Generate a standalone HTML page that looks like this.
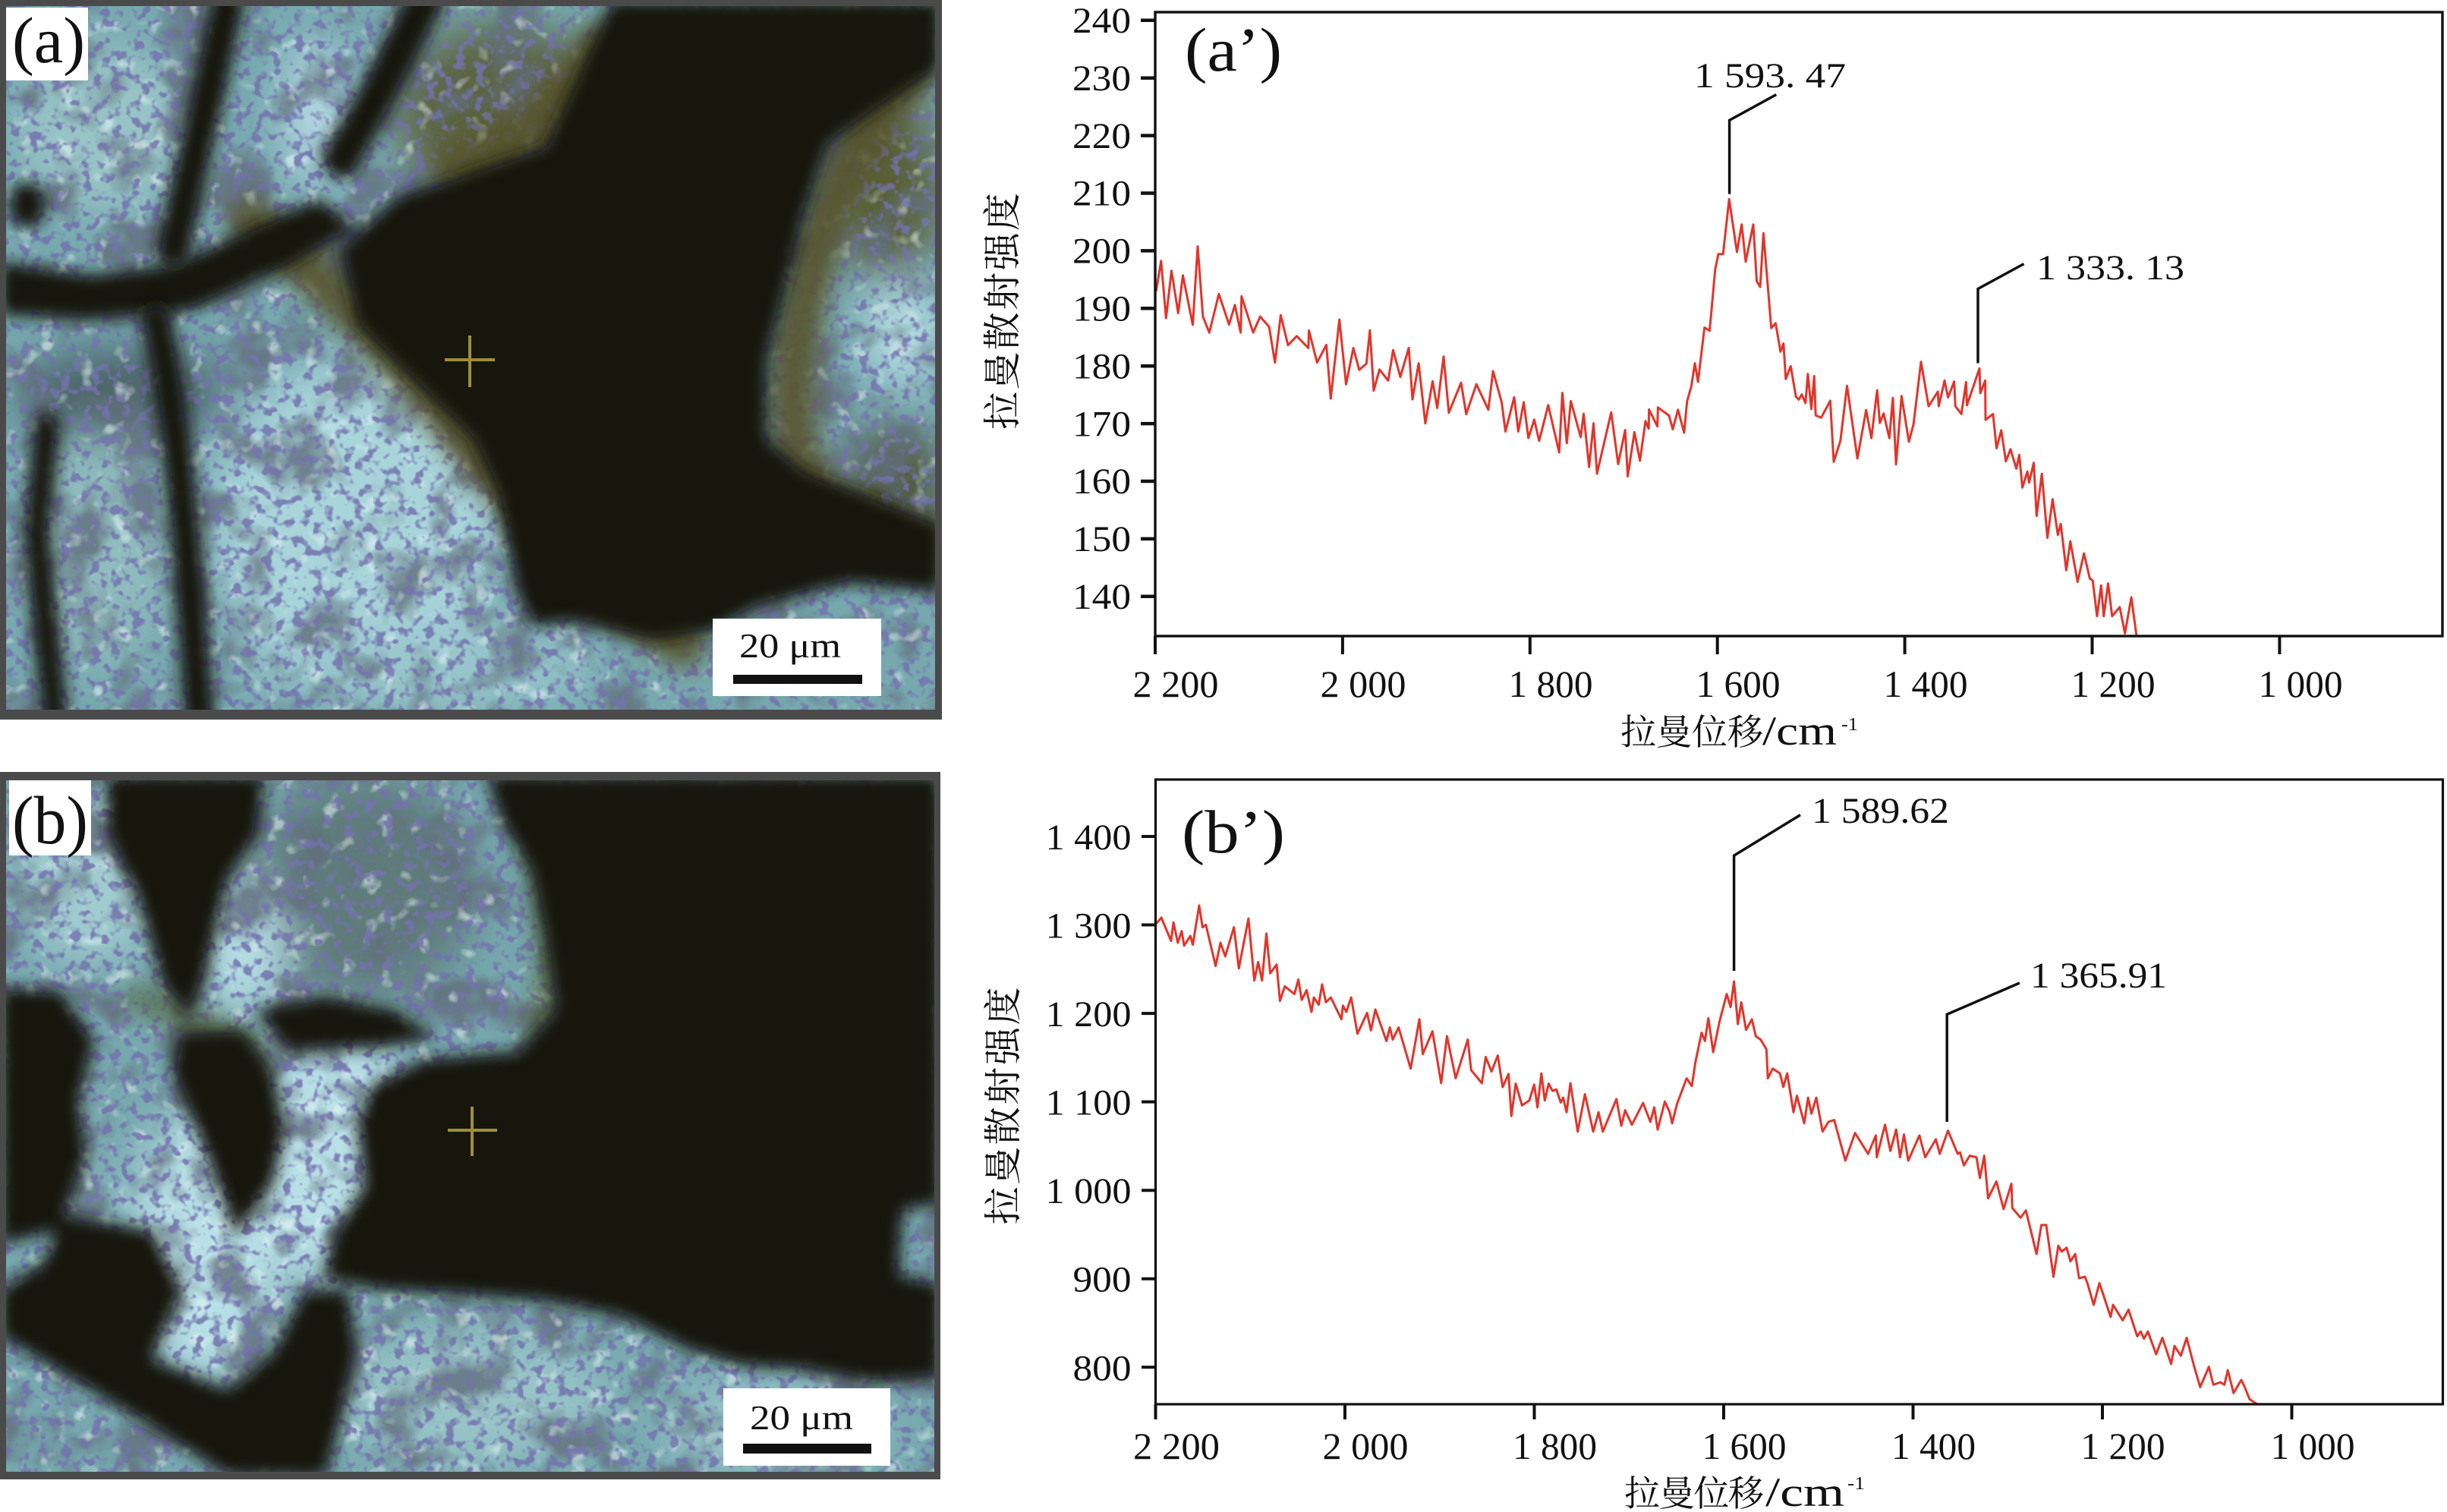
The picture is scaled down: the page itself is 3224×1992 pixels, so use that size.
<!DOCTYPE html>
<html>
<head>
<meta charset="utf-8">
<style>
html,body{margin:0;padding:0;background:#fff;}
body{width:3224px;height:1992px;overflow:hidden;}
svg{display:block;}
.num{font-family:"Liberation Serif","Noto Serif CJK SC",serif;fill:#111;}
.cjk{font-family:"Liberation Serif","Noto Serif CJK SC",serif;fill:#111;}
</style>
</head>
<body>
<svg width="3224" height="1992" viewBox="0 0 3224 1992" xmlns="http://www.w3.org/2000/svg">
<defs>
  <clipPath id="clipA"><rect x="8" y="8" width="1224" height="927"/></clipPath>
  <clipPath id="clipB"><rect x="8" y="1028" width="1223" height="911"/></clipPath>
  <filter id="b10" x="-10%" y="-10%" width="120%" height="120%"><feGaussianBlur stdDeviation="10"/></filter>
  <filter id="b15" x="-20%" y="-20%" width="140%" height="140%"><feGaussianBlur stdDeviation="15"/></filter>
  <filter id="b30" x="-30%" y="-30%" width="160%" height="160%"><feGaussianBlur stdDeviation="30"/></filter>
  <filter id="mottle" x="0" y="0" width="100%" height="100%">
    <feTurbulence type="fractalNoise" baseFrequency="0.014" numOctaves="3" seed="4"/>
    <feColorMatrix type="matrix" values="0 0 0 0 0.12  0 0 0 0 0.16  0 0 0 0 0.2  4 0 0 0 -1.9"/>
  </filter>
  <filter id="speck" x="0" y="0" width="100%" height="100%">
    <feTurbulence type="fractalNoise" baseFrequency="0.075" numOctaves="2" seed="7"/>
    <feColorMatrix type="matrix" values="0 0 0 0 0.17  0 0 0 0 0.17  0 0 0 0 0.42  6 0 0 0 -3.1"/>
  </filter>
  <filter id="speck2" x="0" y="0" width="100%" height="100%">
    <feTurbulence type="fractalNoise" baseFrequency="0.04" numOctaves="2" seed="19"/>
    <feColorMatrix type="matrix" values="0 0 0 0 0.82  0 0 0 0 0.94  0 0 0 0 0.95  0 5 0 0 -3.0"/>
  </filter>
</defs>

<!-- ================= PHOTO A ================= -->
<rect x="0" y="0" width="1241" height="948" fill="#4b4a4a"/>
<g clip-path="url(#clipA)">
  <rect x="8" y="8" width="1224" height="927" fill="#76a8ae"/>
  <g filter="url(#b30)">
    <ellipse cx="660" cy="150" rx="140" ry="120" fill="#5c6440"/>
    <ellipse cx="1170" cy="250" rx="70" ry="120" fill="#5a5e34"/>
    <ellipse cx="1180" cy="640" rx="60" ry="80" fill="#4e5230"/>
    <ellipse cx="470" cy="690" rx="190" ry="220" fill="#a8d4da"/>
    <ellipse cx="560" cy="880" rx="230" ry="55" fill="#98c6cc"/>
    <ellipse cx="140" cy="170" rx="120" ry="110" fill="#98c4c6"/>
    <ellipse cx="415" cy="150" rx="40" ry="100" fill="#b8dce6"/>
    <ellipse cx="1190" cy="440" rx="50" ry="70" fill="#b8e0e6"/>
    <ellipse cx="130" cy="720" rx="90" ry="160" fill="#90bcbe"/>
    <ellipse cx="160" cy="520" rx="140" ry="60" fill="#4a6466"/>
  </g>
  <rect x="8" y="8" width="1224" height="927" filter="url(#mottle)" opacity="0.8"/>
  <rect x="8" y="8" width="1224" height="927" filter="url(#speck2)" opacity="0.55"/>
  <rect x="8" y="8" width="1224" height="927" filter="url(#speck)" opacity="0.85"/>
  <g filter="url(#b15)" fill="none" stroke="#57532a" stroke-width="60" stroke-linecap="round" opacity="0.9">
    <path d="M 330 290 C 430 370 520 460 600 560 S 760 760 900 850"/>
    <path d="M 1200 100 C 1110 200 1050 360 1045 520 S 1130 680 1232 720"/>
    <path d="M 600 220 C 680 200 740 140 790 60"/>
  </g>
  <g filter="url(#b10)" fill="#17140f">
    <path d="M 805 0 L 1240 0 L 1240 90 L 1150 150 L 1092 192 L 1060 288 L 1036 385 L 1012 474 L 1012 577 L 1060 620 L 1116 641 L 1240 690 L 1240 780 L 1116 769 L 1000 800 L 940 833 L 860 845 L 760 820 L 700 825 L 680 780 L 654 650 L 622 580 L 540 500 L 470 430 L 446 330 L 520 260 L 620 225 L 717 192 L 760 100 Z"/>
    <path d="M 0 345 L 120 362 L 230 348 L 330 300 L 420 262 L 470 300 L 380 352 L 250 410 L 120 422 L 0 415 Z"/>
    <ellipse cx="36" cy="270" rx="25" ry="30"/>
  </g>
  <g filter="url(#b10)" fill="none" stroke="#17140f" stroke-linecap="round">
    <path d="M 300 0 L 268 150 L 228 330" stroke-width="45"/>
    <path d="M 560 0 L 500 120 L 450 210" stroke-width="50"/>
    <path d="M 205 420 C 228 520 242 640 262 945" stroke-width="40"/>
    <path d="M 62 560 L 48 700 L 72 945" stroke-width="35"/>
  </g>
  <g stroke="#a08d3a" stroke-width="4">
    <line x1="586" y1="474" x2="652" y2="474"/>
    <line x1="619" y1="442" x2="619" y2="510"/>
  </g>
  <rect x="8" y="10" width="108" height="96" fill="#fff"/>
  <text x="16" y="82" class="num" font-size="86" textLength="96" lengthAdjust="spacingAndGlyphs">(a)</text>
  <rect x="939" y="815" width="222" height="102" fill="#fff"/>
  <text x="974" y="866" class="num" font-size="46" textLength="134" lengthAdjust="spacingAndGlyphs">20 μm</text>
  <rect x="966" y="889" width="170" height="12" fill="#111"/>
</g>

<!-- ================= PHOTO B ================= -->
<rect x="0" y="1017" width="1239" height="932" fill="#4b4a4a"/>
<g clip-path="url(#clipB)">
  <rect x="8" y="1028" width="1223" height="911" fill="#76a8ae"/>
  <g filter="url(#b30)">
    <ellipse cx="480" cy="1170" rx="150" ry="150" fill="#5f7c7a"/>
    <ellipse cx="320" cy="1250" rx="55" ry="90" fill="#b8e0e6"/>
    <ellipse cx="440" cy="1520" rx="110" ry="170" fill="#b8e0e6"/>
    <ellipse cx="270" cy="1640" rx="100" ry="180" fill="#b8e0e6"/>
    <ellipse cx="120" cy="1150" rx="100" ry="120" fill="#a0ccd0"/>
    <ellipse cx="620" cy="1840" rx="180" ry="90" fill="#98c4c8"/>
    <ellipse cx="1020" cy="1880" rx="150" ry="60" fill="#98c4c8"/>
    <ellipse cx="60" cy="1520" rx="60" ry="100" fill="#88b2b6"/>
  </g>
  <rect x="8" y="1028" width="1223" height="911" filter="url(#mottle)" opacity="0.8"/>
  <rect x="8" y="1028" width="1223" height="911" filter="url(#speck2)" opacity="0.55"/>
  <rect x="8" y="1028" width="1223" height="911" filter="url(#speck)" opacity="0.85"/>
  <g filter="url(#b15)" fill="none" stroke="#4e5a2c" stroke-width="40" opacity="0.6">
    <path d="M 170 1310 C 230 1330 300 1370 350 1390"/>
    <path d="M 700 1100 C 730 1200 740 1300 700 1380"/>
  </g>
  <g filter="url(#b10)" fill="#17140f">
    <path d="M 640 1020 L 1240 1020 L 1240 1585 L 1190 1595 L 1185 1680 L 1240 1690 L 1240 1815 L 1150 1822 L 1060 1805 L 980 1800 L 900 1775 L 820 1735 L 720 1715 L 600 1705 L 500 1700 L 425 1685 L 440 1625 L 480 1560 L 470 1480 L 490 1430 L 560 1395 L 680 1385 L 730 1330 L 720 1250 L 700 1150 L 660 1080 Z"/>
    <path d="M 140 1020 L 350 1020 L 340 1100 L 300 1160 L 270 1290 L 250 1340 L 215 1300 L 180 1180 L 140 1100 Z"/>
    <path d="M 335 1330 L 430 1312 L 520 1330 L 575 1365 L 500 1380 L 380 1385 Z"/>
    <path d="M 235 1360 L 320 1355 L 360 1410 L 375 1490 L 360 1560 L 310 1630 L 290 1570 L 255 1480 L 225 1410 Z"/>
    <path d="M 0 1300 L 80 1305 L 125 1370 L 105 1450 L 115 1520 L 80 1620 L 0 1640 Z"/>
    <path d="M 80 1600 L 200 1620 L 240 1700 L 200 1790 L 300 1830 L 360 1780 L 400 1700 L 460 1700 L 470 1780 L 450 1870 L 430 1945 L 300 1945 L 200 1880 L 100 1820 L 0 1760 L 0 1700 L 60 1660 Z"/>
  </g>
  <g stroke="#a08d3a" stroke-width="4">
    <line x1="590" y1="1489" x2="655" y2="1489"/>
    <line x1="622" y1="1458" x2="622" y2="1523"/>
  </g>
  <rect x="12" y="1027" width="108" height="100" fill="#fff"/>
  <text x="16" y="1111" class="num" font-size="90" textLength="100" lengthAdjust="spacingAndGlyphs">(b)</text>
  <rect x="953" y="1829" width="220" height="102" fill="#fff"/>
  <text x="988" y="1883" class="num" font-size="46" textLength="136" lengthAdjust="spacingAndGlyphs">20 μm</text>
  <rect x="979" y="1902" width="169" height="13" fill="#111"/>
</g>

<!-- ================= CHART A' ================= -->
<g>
  <polyline fill="none" stroke="#e3342a" stroke-width="3" stroke-linejoin="round" points="1523.2,383.9 1529.8,343.7 1536.3,419.1 1543.5,356.7 1552.3,412.6 1558.5,362.8 1571.5,427.9 1578,324.5 1584.9,417.1 1593.3,438.2 1605.9,387.3 1619.3,427.5 1627,401.8 1634.6,438.2 1635.8,390.4 1651.1,438.2 1660.3,417.1 1672.1,430.5 1679.8,477.6 1687.4,415.2 1697,454.7 1708.5,442.8 1723.8,458.5 1724.6,435.5 1735.3,477.6 1747.5,454.3 1753.3,525.1 1764.7,421 1773.5,506.3 1783.1,458.5 1790.8,487.2 1800.3,479.1 1804.9,435.1 1809.9,514.7 1817.5,486.8 1829,501.3 1835.5,461.2 1845,496.6 1856.1,458.3 1861,526.1 1869.1,478.6 1877.9,557.8 1887.5,502.3 1893.6,537.5 1902,469.8 1908.9,543.7 1925,504.2 1931.8,545.6 1945.2,506.2 1960.9,539.8 1967.1,488.9 1978.5,529.9 1983.5,568.5 1995,523.4 2000.4,568.5 2007.6,529.9 2013.7,577 2021.4,552.8 2027.9,580.8 2039.8,533.7 2054.3,596.1 2058.5,517.6 2064.3,583.9 2069.6,528.4 2082.6,575.8 2086.5,545.2 2093.7,615.2 2099.5,557.8 2104.1,624 2122.8,543.3 2132,611.4 2141.2,566.6 2144.6,627.5 2153.4,569.3 2160.7,606.8 2168,554.8 2172.2,564.7 2172.6,539.5 2183.7,561.7 2184.4,536.8 2199,547.5 2203.9,565.5 2210.8,539.8 2218.9,570.1 2222.7,529.1 2228.4,508.8 2233,478.6 2237.2,503.1 2245.7,431.5 2252.5,435.7 2259.8,355 2264,334.7 2270.2,334.7 2278.2,262.4 2288.5,332 2294.7,295.7 2300,344.7 2310,295.7 2314.5,370.3 2319.1,378 2323.4,307.2 2333.7,432.3 2339.4,425.8 2345.9,463.3 2349.8,452.6 2352.8,499.3 2359.3,482.4 2366.2,522.6 2370,526.4 2373.9,519.6 2378.8,531 2381.9,492.8 2386.5,538.7 2390.3,495.4 2392.2,547.1 2399.5,550.2 2411.4,528 2416,608.3 2424.8,580.8 2433.5,508.2 2447.2,604 2458.7,540.1 2465.6,577.2 2473.2,514.1 2476.7,557.3 2481.7,544.7 2489.3,577.2 2493.9,524.4 2498.1,611.7 2505.4,521.7 2515,581.8 2521.1,559.2 2531,476.6 2541,535.1 2553.2,516 2554.4,535.1 2562,501.4 2566.6,523.6 2574.7,502.6 2576.2,535.1 2584.2,545.4 2590.4,503.3 2591.5,534 2608,485.4 2609.1,517.9 2615.6,501.4 2616,553.1 2625.9,545.4 2630.5,590.6 2636.7,566.9 2642.8,607.8 2648.9,591.8 2656.6,617.4 2660.4,599.4 2664.6,642.3 2671.1,621.2 2673.4,635.8 2679.5,609.7 2683.3,679.8 2690.2,624.3 2697.5,708.5 2704.4,657.6 2711.3,704.6 2715.1,690.1 2722.4,751.3 2727.7,713.1 2737.3,766.6 2745.7,729.1 2753.4,762.1 2757.2,764.7 2762.9,811.8 2768.3,771.2 2771.7,811.8 2777.5,768.6 2782.8,811.8 2792.8,799.9 2799.7,834.4 2808.1,786.9 2815,838.2"/>
  <rect x="1522" y="16" width="1696" height="822" fill="none" stroke="#111" stroke-width="3.4"/>
  <g stroke="#111" stroke-width="4.5">
    <line x1="1503" y1="26.8" x2="1522" y2="26.8"/>
    <line x1="1503" y1="102.7" x2="1522" y2="102.7"/>
    <line x1="1503" y1="178.6" x2="1522" y2="178.6"/>
    <line x1="1503" y1="254.5" x2="1522" y2="254.5"/>
    <line x1="1503" y1="330.4" x2="1522" y2="330.4"/>
    <line x1="1503" y1="406.3" x2="1522" y2="406.3"/>
    <line x1="1503" y1="482.2" x2="1522" y2="482.2"/>
    <line x1="1503" y1="558.1" x2="1522" y2="558.1"/>
    <line x1="1503" y1="634" x2="1522" y2="634"/>
    <line x1="1503" y1="709.9" x2="1522" y2="709.9"/>
    <line x1="1503" y1="785.8" x2="1522" y2="785.8"/>
  </g>
  <g stroke="#111" stroke-width="4">
    <line x1="1522" y1="838" x2="1522" y2="862"/>
    <line x1="1768.9" y1="838" x2="1768.9" y2="862"/>
    <line x1="2015.8" y1="838" x2="2015.8" y2="862"/>
    <line x1="2262.7" y1="838" x2="2262.7" y2="862"/>
    <line x1="2509.6" y1="838" x2="2509.6" y2="862"/>
    <line x1="2756.5" y1="838" x2="2756.5" y2="862"/>
    <line x1="3003.4" y1="838" x2="3003.4" y2="862"/>
  </g>
  <g class="num" font-size="48" text-anchor="end">
    <text x="1490" y="43" textLength="77" lengthAdjust="spacingAndGlyphs">240</text>
    <text x="1490" y="118.9" textLength="77" lengthAdjust="spacingAndGlyphs">230</text>
    <text x="1490" y="194.8" textLength="77" lengthAdjust="spacingAndGlyphs">220</text>
    <text x="1490" y="270.7" textLength="77" lengthAdjust="spacingAndGlyphs">210</text>
    <text x="1490" y="346.6" textLength="77" lengthAdjust="spacingAndGlyphs">200</text>
    <text x="1490" y="422.5" textLength="77" lengthAdjust="spacingAndGlyphs">190</text>
    <text x="1490" y="498.4" textLength="77" lengthAdjust="spacingAndGlyphs">180</text>
    <text x="1490" y="574.3" textLength="77" lengthAdjust="spacingAndGlyphs">170</text>
    <text x="1490" y="650.2" textLength="77" lengthAdjust="spacingAndGlyphs">160</text>
    <text x="1490" y="726.1" textLength="77" lengthAdjust="spacingAndGlyphs">150</text>
    <text x="1490" y="802" textLength="77" lengthAdjust="spacingAndGlyphs">140</text>
  </g>
  <g class="num" font-size="50" text-anchor="middle">
    <text x="1549" y="918" textLength="113" lengthAdjust="spacingAndGlyphs">2 200</text>
    <text x="1796" y="918" textLength="113" lengthAdjust="spacingAndGlyphs">2 000</text>
    <text x="2043" y="918" textLength="111" lengthAdjust="spacingAndGlyphs">1 800</text>
    <text x="2290" y="918" textLength="111" lengthAdjust="spacingAndGlyphs">1 600</text>
    <text x="2537" y="918" textLength="111" lengthAdjust="spacingAndGlyphs">1 400</text>
    <text x="2784" y="918" textLength="111" lengthAdjust="spacingAndGlyphs">1 200</text>
    <text x="3031" y="918" textLength="111" lengthAdjust="spacingAndGlyphs">1 000</text>
  </g>
  <text x="1561" y="93" class="num" font-size="82" textLength="128" lengthAdjust="spacingAndGlyphs">(a’)</text>
  <polyline fill="none" stroke="#111" stroke-width="3.5" points="2340.3,124.6 2278.6,158.4 2278.6,255.6"/>
  <text x="2232" y="115" class="num" font-size="47" textLength="200" lengthAdjust="spacingAndGlyphs">1 593. 47</text>
  <polyline fill="none" stroke="#111" stroke-width="3.5" points="2666.5,347.6 2606,380.5 2606,478.5"/>
  <text x="2683" y="368" class="num" font-size="47" textLength="195" lengthAdjust="spacingAndGlyphs">1 333. 13</text>
  <text transform="translate(1338,410) rotate(-90)" class="cjk" font-size="50" text-anchor="middle" textLength="312" lengthAdjust="spacing">拉曼散射强度</text>
  <text x="2135" y="981" class="cjk" font-size="47" textLength="188" lengthAdjust="spacing">拉曼位移</text>
  <text x="2322" y="981" class="num" font-size="54" textLength="98" lengthAdjust="spacingAndGlyphs">/cm</text>
  <text x="2426" y="962" class="num" font-size="24" textLength="22" lengthAdjust="spacingAndGlyphs">-1</text>
</g>

<!-- ================= CHART B' ================= -->
<g>
  <polyline fill="none" stroke="#e3342a" stroke-width="3" stroke-linejoin="round" points="1523.8,1216.5 1530.1,1208.9 1542.9,1239.5 1546.1,1215.2 1551.8,1242 1556.9,1226.7 1560.1,1245.8 1568.4,1233.1 1571.6,1244.6 1579.9,1192.9 1584.4,1221.6 1588.8,1218.4 1601.6,1272.6 1608,1242 1614.3,1259.9 1625.8,1221.6 1632.2,1275.8 1644.9,1210.1 1652.6,1291.8 1657.7,1267.5 1662.8,1291.8 1668.5,1229.9 1673.6,1282.2 1682,1270.7 1686.4,1318.6 1692.8,1299.4 1705.5,1309.6 1710.6,1290.5 1715.1,1317.3 1721.5,1304.5 1727.9,1333.2 1731.1,1314.1 1737.4,1323.7 1741.9,1296.9 1747,1320.5 1753.4,1314.1 1767.4,1342.8 1769.3,1324.9 1773.8,1333.2 1780.2,1314.1 1788.5,1361.9 1801.2,1334.5 1806.3,1357.5 1812.1,1330 1826.7,1371.5 1831.2,1353.6 1835,1369.6 1842.7,1353.6 1858.6,1407.8 1870.1,1342.8 1874.6,1388.7 1887.3,1358.7 1898.8,1427 1906.4,1365.1 1917.9,1420.6 1933.9,1369.6 1938.3,1409.8 1952.4,1427 1957.5,1392.5 1965.1,1411.7 1973.4,1390.6 1979.8,1432.1 1987.5,1414.9 1991.3,1470.4 1997,1427.6 2005.3,1456.3 2014.9,1449.9 2021.3,1428.9 2025.7,1458.9 2030.8,1414.2 2035.3,1449.9 2040.4,1427.6 2045.5,1437.2 2050.6,1435.3 2056.3,1452.5 2059.5,1446.1 2064,1465.3 2069.1,1427 2078.7,1490.8 2088.2,1441.6 2099.1,1490.8 2106.1,1465.3 2111.8,1490.8 2129.7,1448 2136.1,1483.1 2141.2,1462.7 2150.1,1481.8 2164.8,1453.1 2174.4,1478 2179.5,1458.9 2184,1488.2 2193.5,1451.2 2199.9,1465.3 2203.1,1479.9 2209.5,1454.4 2222.2,1420.6 2229.1,1430.8 2233.6,1400.2 2241.9,1360.6 2246.3,1371.5 2250.8,1341.5 2257.2,1386.2 2265.5,1346 2275,1309.6 2280.1,1326.8 2284.6,1293 2289.7,1349.2 2294.2,1320.5 2300.5,1356.8 2308.2,1342.8 2313.3,1365.1 2319.7,1369.6 2327.3,1382.3 2329.2,1420.6 2335.6,1407.8 2345.2,1414.2 2349.6,1432.1 2354.7,1414.2 2363,1465.3 2367.5,1443.6 2377.1,1479.9 2382.2,1446.1 2386.6,1467.2 2393,1446.1 2401.3,1490.8 2409,1478 2416.6,1475.5 2431.3,1529 2444,1492.7 2461.3,1520.1 2471.5,1495.9 2472.7,1524.6 2483.6,1481.8 2490.6,1516.3 2498.3,1488.2 2503.4,1524.6 2508.5,1494.6 2514.2,1529 2528.9,1495.9 2536.5,1524.6 2550.6,1501 2555.7,1520.1 2566.5,1489.5 2579.3,1520.1 2582.4,1518.2 2587.5,1535.4 2595.2,1522.6 2604.1,1524.6 2608.6,1552 2614.3,1522.6 2619.4,1578.8 2630.3,1556.5 2639.8,1592.8 2650.1,1559.6 2651.3,1591.5 2662.2,1604.3 2669.2,1594.7 2683.2,1652.1 2689.6,1613.9 2696,1613.9 2705.5,1682.1 2711.9,1641.3 2716.4,1648.9 2722.8,1643.8 2727.9,1661.7 2734.2,1652.1 2739.3,1684 2747,1682.1 2750.2,1690.4 2758.5,1719.1 2766.1,1690.4 2780.8,1735 2784,1719.1 2796.7,1739.5 2804.4,1725.5 2815.9,1760.5 2820.3,1754.2 2824.8,1763.7 2829.9,1754.2 2840.8,1784.1 2849,1762.5 2860.5,1796.9 2865,1773.3 2873.3,1786.1 2881,1762.5 2890.5,1798.8 2898.8,1827.5 2910.3,1800.7 2916.1,1824.3 2925.6,1821.1 2930.7,1824.3 2935.2,1805.2 2942.8,1835.2 2953,1818 2957.5,1827.5 2963.9,1843.4 2973.4,1849.8"/>
  <rect x="1522.5" y="1027" width="1696" height="823" fill="none" stroke="#111" stroke-width="3.2"/>
  <g stroke="#111" stroke-width="4">
    <line x1="1504" y1="1102" x2="1522.5" y2="1102"/>
    <line x1="1504" y1="1218.5" x2="1522.5" y2="1218.5"/>
    <line x1="1504" y1="1335.1" x2="1522.5" y2="1335.1"/>
    <line x1="1504" y1="1451.6" x2="1522.5" y2="1451.6"/>
    <line x1="1504" y1="1568.2" x2="1522.5" y2="1568.2"/>
    <line x1="1504" y1="1684.7" x2="1522.5" y2="1684.7"/>
    <line x1="1504" y1="1801.3" x2="1522.5" y2="1801.3"/>
  </g>
  <g stroke="#111" stroke-width="4">
    <line x1="1522.5" y1="1850" x2="1522.5" y2="1870"/>
    <line x1="1772" y1="1850" x2="1772" y2="1870"/>
    <line x1="2021.5" y1="1850" x2="2021.5" y2="1870"/>
    <line x1="2271" y1="1850" x2="2271" y2="1870"/>
    <line x1="2520.5" y1="1850" x2="2520.5" y2="1870"/>
    <line x1="2770" y1="1850" x2="2770" y2="1870"/>
    <line x1="3019.5" y1="1850" x2="3019.5" y2="1870"/>
  </g>
  <g class="num" font-size="48" text-anchor="end">
    <text x="1490.5" y="1119" textLength="113" lengthAdjust="spacingAndGlyphs">1 400</text>
    <text x="1490.5" y="1235.5" textLength="113" lengthAdjust="spacingAndGlyphs">1 300</text>
    <text x="1490.5" y="1352.1" textLength="113" lengthAdjust="spacingAndGlyphs">1 200</text>
    <text x="1490.5" y="1468.6" textLength="113" lengthAdjust="spacingAndGlyphs">1 100</text>
    <text x="1490.5" y="1585.2" textLength="113" lengthAdjust="spacingAndGlyphs">1 000</text>
    <text x="1490.5" y="1701.7" textLength="77" lengthAdjust="spacingAndGlyphs">900</text>
    <text x="1490.5" y="1818.3" textLength="77" lengthAdjust="spacingAndGlyphs">800</text>
  </g>
  <g class="num" font-size="50" text-anchor="middle">
    <text x="1550" y="1922" textLength="114" lengthAdjust="spacingAndGlyphs">2 200</text>
    <text x="1799" y="1922" textLength="113" lengthAdjust="spacingAndGlyphs">2 000</text>
    <text x="2048.5" y="1922" textLength="111" lengthAdjust="spacingAndGlyphs">1 800</text>
    <text x="2298" y="1922" textLength="111" lengthAdjust="spacingAndGlyphs">1 600</text>
    <text x="2547.5" y="1922" textLength="111" lengthAdjust="spacingAndGlyphs">1 400</text>
    <text x="2797" y="1922" textLength="111" lengthAdjust="spacingAndGlyphs">1 200</text>
    <text x="3047" y="1922" textLength="111" lengthAdjust="spacingAndGlyphs">1 000</text>
  </g>
  <text x="1557" y="1123" class="num" font-size="80" textLength="136" lengthAdjust="spacingAndGlyphs">(b’)</text>
  <polyline fill="none" stroke="#111" stroke-width="3.5" points="2372,1073.6 2284.6,1127.2 2284.6,1279"/>
  <text x="2387" y="1084" class="num" font-size="48" textLength="181" lengthAdjust="spacingAndGlyphs">1 589.62</text>
  <polyline fill="none" stroke="#111" stroke-width="3.5" points="2660.9,1295 2565.2,1336.4 2565.2,1478"/>
  <text x="2675" y="1301" class="num" font-size="48" textLength="180" lengthAdjust="spacingAndGlyphs">1 365.91</text>
  <text transform="translate(1339,1457) rotate(-90)" class="cjk" font-size="50" text-anchor="middle" textLength="313" lengthAdjust="spacing">拉曼散射强度</text>
  <text x="2140" y="1984" class="cjk" font-size="47" textLength="184" lengthAdjust="spacing">拉曼位移</text>
  <text x="2326" y="1984" class="num" font-size="54" textLength="104" lengthAdjust="spacingAndGlyphs">/cm</text>
  <text x="2434" y="1962" class="num" font-size="24" textLength="23" lengthAdjust="spacingAndGlyphs">-1</text>
</g>
</svg>
</body>
</html>
